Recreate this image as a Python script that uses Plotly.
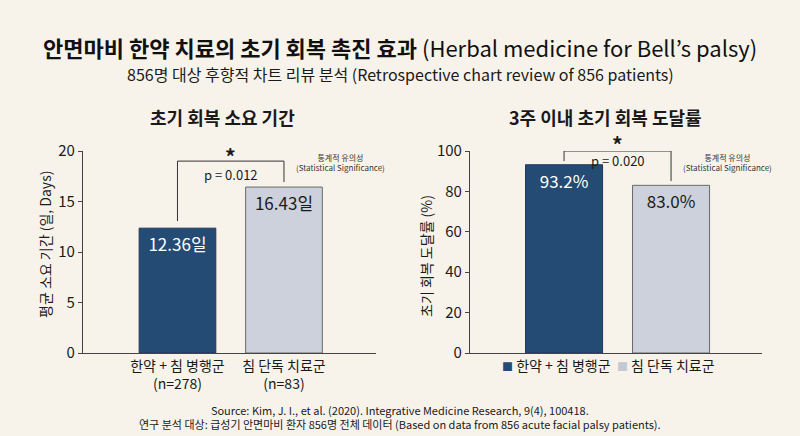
import plotly.graph_objects as go

# data
groups = ["한약 + 침 병행군", "침 단독 치료군"]
group_n = [278, 83]
recovery_days = [12.36, 16.43]
recovery_rate = [93.2, 83.0]
p_days = 0.012
p_rate = 0.020
days_ticks = [0, 5, 10, 15, 20]
rate_ticks = [0, 20, 40, 60, 80, 100]

W, H = 800, 436
BG = "#f8f3ea"
DARK = "#244b73"
LIGHT = "#cdd1dc"
TXT = "#1a1a1a"
FONT = "Noto Sans CJK KR"


def px(x):
    return x / W


def py(y):
    return 1 - y / H


cat_labels = [f"{g}<br>(n={n})" for g, n in zip(groups, group_n)]

fig = go.Figure()

# left: days
fig.add_trace(go.Bar(x=cat_labels, y=recovery_days,
                     text=[f"{v:.2f}일" for v in recovery_days],
                     textposition="inside", insidetextanchor="end",
                     textfont=dict(size=17, color=["white", TXT]),
                     marker=dict(color=[DARK, LIGHT],
                                 line=dict(color=["#1e3a5c", "#6a6a6a"], width=1)),
                     width=0.72, xaxis="x", yaxis="y", showlegend=False))

# right: rate
fig.add_trace(go.Bar(x=groups, y=recovery_rate,
                     text=[f"{v:.1f}%" for v in recovery_rate],
                     textposition="inside", insidetextanchor="end",
                     textfont=dict(size=17, color=["white", TXT]),
                     marker=dict(color=[DARK, LIGHT],
                                 line=dict(color=["#1e3a5c", "#6a6a6a"], width=1)),
                     width=0.72, xaxis="x2", yaxis="y2", showlegend=False))

axis_common = dict(showgrid=False, zeroline=False, showline=True, linecolor="#444",
                   linewidth=1.2, ticks="outside", ticklen=4, tickcolor="#444",
                   tickfont=dict(size=15, color=TXT, family=FONT))

fig.update_layout(
    width=W, height=H,
    paper_bgcolor=BG, plot_bgcolor=BG,
    margin=dict(l=0, r=0, t=0, b=0, autoexpand=False),
    font=dict(family=FONT, color=TXT),
    xaxis=dict(domain=[px(83), px(376)], range=[-0.887, 1.864],
               showline=True, linecolor="#444", linewidth=1.2, ticks="",
               tickfont=dict(size=14, color=TXT, family=FONT)),
    yaxis=dict(domain=[py(353), py(151)], range=[0, 20], tickvals=days_ticks,
               **axis_common),
    xaxis2=dict(domain=[px(470), px(762)], range=[-0.879, 1.85],
                showline=True, linecolor="#444", linewidth=1.2, ticks="",
                showticklabels=False),
    yaxis2=dict(domain=[py(353), py(151)], range=[0, 100], tickvals=rate_ticks,
                anchor="x2", **axis_common),
)


def bracket(xref, yref, y_left, y_top, y_right):
    for x0, y0, x1, y1 in [(0, y_left, 0, y_top), (0, y_top, 1, y_top), (1, y_top, 1, y_right)]:
        fig.add_shape(type="line", xref=xref, yref=yref, x0=x0, y0=y0, x1=x1, y1=y1,
                      line=dict(color="#333", width=1))


# significance brackets
bracket("x", "y", recovery_days[0] + 0.7, 19.0, recovery_days[1] + 0.5)
bracket("x2", "y2", 95, 100, recovery_rate[1] + 2.1)

ann = []
ann.append(dict(x=0.5, y=19.0, xref="x", yref="y", text="<b>*</b>", showarrow=False,
                yanchor="middle", font=dict(size=21), yshift=5))
ann.append(dict(x=0.5, y=19.0, xref="x", yref="y", text=f"p = {p_days:.3f}", showarrow=False,
                yanchor="top", font=dict(size=13), yshift=-2))
ann.append(dict(x=0.5, y=100, xref="x2", yref="y2", text="<b>*</b>", showarrow=False,
                yanchor="middle", font=dict(size=21), yshift=7))
ann.append(dict(x=0.5, y=100, xref="x2", yref="y2", text=f"p = {p_rate:.3f}", showarrow=False,
                yanchor="top", font=dict(size=13), yshift=2))
for cx in (340, 727):
    ann.append(dict(x=px(cx), y=py(162), xref="paper", yref="paper",
                    xanchor="center", yanchor="middle",
                    text="통계적 유의성<br>(Statistical Significance)", showarrow=False,
                    font=dict(size=8, color="#333"), align="center"))


def label(x, y, text, size, color=TXT, angle=0):
    ann.append(dict(x=px(x), y=py(y), xref="paper", yref="paper", showarrow=False,
                    xanchor="center", yanchor="middle", text=text, textangle=angle,
                    font=dict(size=size, color=color)))


# titles
label(400, 47, "<b>안면마비 한약 치료의 초기 회복 촉진 효과</b> (Herbal medicine for Bell’s palsy)", 22, "#111")
label(400, 74, "856명 대상 후향적 차트 리뷰 분석 (Retrospective chart review of 856 patients)", 16)
label(222, 117, "<b>초기 회복 소요 기간</b>", 18)
label(605, 117, "<b>3주 이내 초기 회복 도달률</b>", 18)

# axis titles
label(45, 245, "평균 소요 기간 (일, Days)", 14, angle=-90)
label(426, 256, "초기 회복 도달률 (%)", 14, angle=-90)

# legend for right chart
label(608, 365, f"<span style='color:{DARK};font-size:11px'>■</span> {groups[0]}  "
                f"<span style='color:#c3c8d3;font-size:11px'>■</span> {groups[1]}", 14)

# footer
label(400, 417, "Source: Kim, J. I., et al. (2020). Integrative Medicine Research, 9(4), 100418.<br>"
                "연구 분석 대상: 급성기 안면마비 환자 856명 전체 데이터 (Based on data from 856 acute facial palsy patients).", 11)

fig.update_layout(annotations=ann)
fig.write_html("out.html", config={"displayModeBar": False},
               post_script=f"document.body.style.margin='0';document.body.style.background='{BG}';")
